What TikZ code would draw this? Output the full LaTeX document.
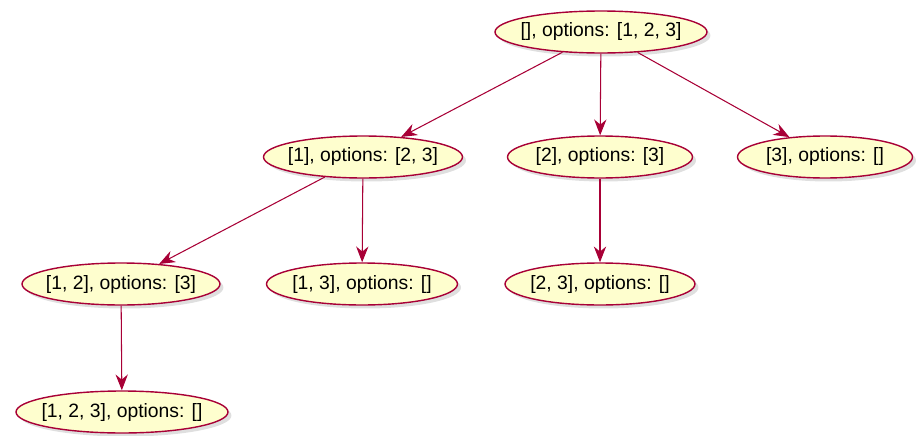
\documentclass[tikz,border=0pt]{standalone}
\usepackage{fontspec}
\setmainfont{Liberation Sans}
\usepackage{tikz}
\usetikzlibrary{positioning, shapes.geometric, shadows, arrows.meta}
\definecolor{umlred}{HTML}{A80036}
\definecolor{umlyellow}{HTML}{FEFECE}

\begin{document}
\begin{tikzpicture}[x=0.02cm, y=-0.02cm,
        state/.style={ellipse, draw=umlred, fill=umlyellow, line width=0.8pt,
            minimum height=0.84cm, minimum width=#1, inner xsep=-1cm, inner ysep=0pt,
            font=\fontsize{11pt}{13pt}\selectfont,
            drop shadow={shadow xshift=0.07cm, shadow yshift=-0.07cm, opacity=0.25}},
        link/.style={draw=umlred, line width=0.6pt, -{Stealth[length=9pt, width=7pt]}}]
            \useasboundingbox (0, 0) rectangle (916, 436);

            \node [state=4.24cm] (R) at (601, 32) {[], options: [1, 2, 3]};
            \node [state=3.98cm] (S1) at (363, 157) {[1], options: [2, 3]};
            \node [state=3.70cm] (S2) at (600, 157) {[2], options: [3]};
            \node [state=3.50cm] (S3) at (825, 157) {[3], options: []};
            \node [state=3.96cm] (S12) at (121, 284) {[1, 2], options: [3]};
            \node [state=3.82cm] (S13) at (362, 284) {[1, 3], options: []};
            \node [state=3.80cm] (S23) at (600, 284) {[2, 3], options: []};
            \node [state=4.24cm] (S123) at (122, 412) {[1, 2, 3], options: []};

            \draw [link] (R) -- (S1);
            \draw [link] (R) -- (S2);
            \draw [link] (R) -- (S3);
            \draw [link] (S1) -- (S12);
            \draw [link] (S1) -- (S13);
            \draw [link] (S2) -- (S23);
            \draw [link] (S12) -- (S123);
        \end{tikzpicture}
\end{document}
